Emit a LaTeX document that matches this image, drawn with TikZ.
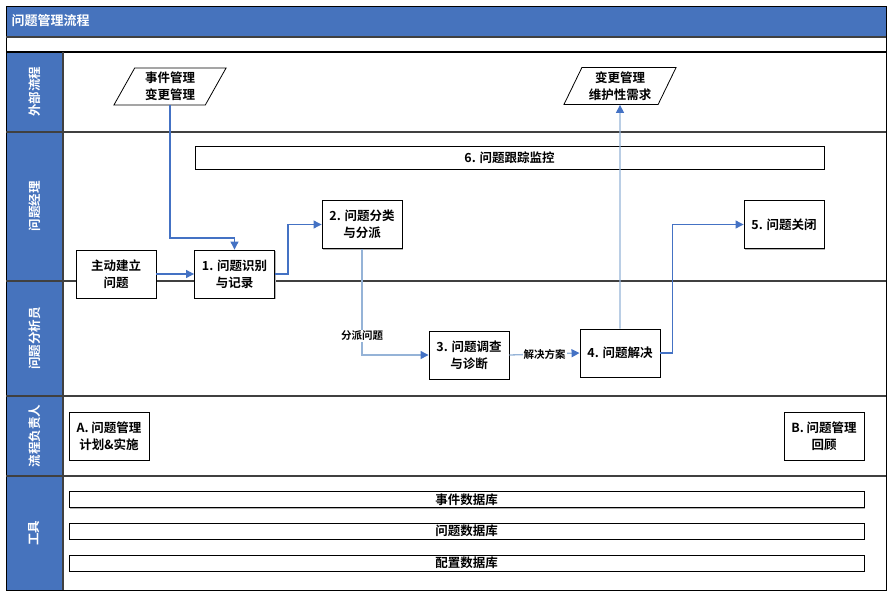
\documentclass[tikz,border=0pt]{standalone}
\usepackage{fontspec}
\setmainfont{Noto Sans CJK SC}[BoldFont={Noto Sans CJK SC Bold}]
\usetikzlibrary{shapes.geometric,arrows.meta,shadows}
\definecolor{headbl}{HTML}{4673BD}
\definecolor{arrbl}{HTML}{4472C4}
\definecolor{litebl}{HTML}{95B3D7}
\definecolor{lanegr}{HTML}{404040}

\begin{document}
\begin{tikzpicture}[x=1pt,y=-1pt,
  font=\fontsize{12.5}{17}\selectfont\bfseries,
  box/.style={draw,fill=white,line width=0.9pt,minimum width=80pt,minimum height=48pt,inner sep=1pt,align=center,
    drop shadow={shadow xshift=1.2pt,shadow yshift=-1.2pt,fill=gray!60,opacity=1}},
  ext/.style={trapezium,trapezium left angle=63,trapezium right angle=117,trapezium stretches=true,
    draw,fill=white,line width=0.8pt,minimum width=113pt,minimum height=37pt,inner sep=0pt,align=center},
  bar/.style={draw,fill=white,line width=0.9pt,minimum height=16pt,inner sep=0pt,font=\fontsize{12.5}{13}\selectfont\bfseries,
    drop shadow={shadow xshift=1pt,shadow yshift=-1pt,fill=gray!60,opacity=1}},
  lane/.style={text=white,rotate=90,font=\fontsize{12.5}{14}\selectfont\bfseries},
  lbl/.style={fill=white,text=black,inner sep=1pt,font=\fontsize{10.5}{12}\selectfont\bfseries},
  flow/.style={arrbl,line width=1.1pt,-{Triangle[width=8pt,length=8pt]}},
  flowlt/.style={litebl,line width=1.3pt,-{Triangle[width=8pt,length=8pt,color=arrbl]}}]
\useasboundingbox (0,0) rectangle (891,594);

\fill[headbl] (6,6) rectangle (886,37);
\fill[headbl] (6,52) rectangle (63,590);
\draw[line width=0.8pt] (6,6) rectangle (886,590);
\draw[lanegr,line width=1.5pt] (6,37) -- (886,37);
\draw[line width=1.2pt] (6,52) -- (886,52);
\foreach \y in {131.5,281,396,476}
  \draw[lanegr,line width=2pt] (6,\y) -- (886,\y);
\draw[lanegr,line width=1.5pt] (63,52) -- (63,590);

\node[anchor=west,text=white,font=\fontsize{13}{15}\selectfont\bfseries] (title) at (8,21) {问题管理流程};
\node[lane] (l1) at (34.5,91.5) {外部流程};
\node[lane] (l2) at (34.5,206) {问题经理};
\node[lane] (l3) at (34.5,338.5) {问题分析员};
\node[lane] (l4) at (34.5,436) {流程负责人};
\node[lane] (l5) at (34.5,533) {工具};

\node[ext] (ext1) at (170,86.5) {事件管理\\变更管理};
\node[ext] (ext2) at (620,86) {变更管理\\维护性需求};
\node[bar,minimum width=629pt,minimum height=23pt] (track) at (509.5,157.5) {6. 问题跟踪监控};

\node[box] (start) at (116,274) {主动建立\\问题};
\node[box] (rec) at (234.5,274) {1. 问题识别\\与记录};
\node[box] (cls) at (362,224.5) {2. 问题分类\\与分派};
\node[box] (diag) at (469,355) {3. 问题调查\\与诊断};
\node[box] (solve) at (620,353) {4. 问题解决};
\node[box] (close) at (784,224.5) {5. 问题关闭};
\node[box] (plan) at (109,436) {A. 问题管理\\计划\&实施};
\node[box] (review) at (824,436) {B. 问题管理\\回顾};

\node[bar,minimum width=795pt] (db1) at (466.5,499.5) {事件数据库};
\node[bar,minimum width=795pt] (db2) at (466.5,531) {问题数据库};
\node[bar,minimum width=795pt] (db3) at (466.5,563) {配置数据库};

\draw[flow] (ext1.south) |- (200,238) -| (rec.north);
\draw[flow] (start.east) -- (rec.west);
\draw[flow] (rec.east) -- ++(13,0) |- (cls.west);
\draw[flowlt] (cls.south) |- (diag.west) node[lbl,pos=0.41] {分派问题};
\draw[flowlt] (diag.east) -- (solve.west) node[lbl,midway] {解决方案};
\draw[flowlt] (solve.north) -- (ext2.south);
\draw[flow] (solve.east) -- ++(12,0) |- (close.west);
\end{tikzpicture}
\end{document}
